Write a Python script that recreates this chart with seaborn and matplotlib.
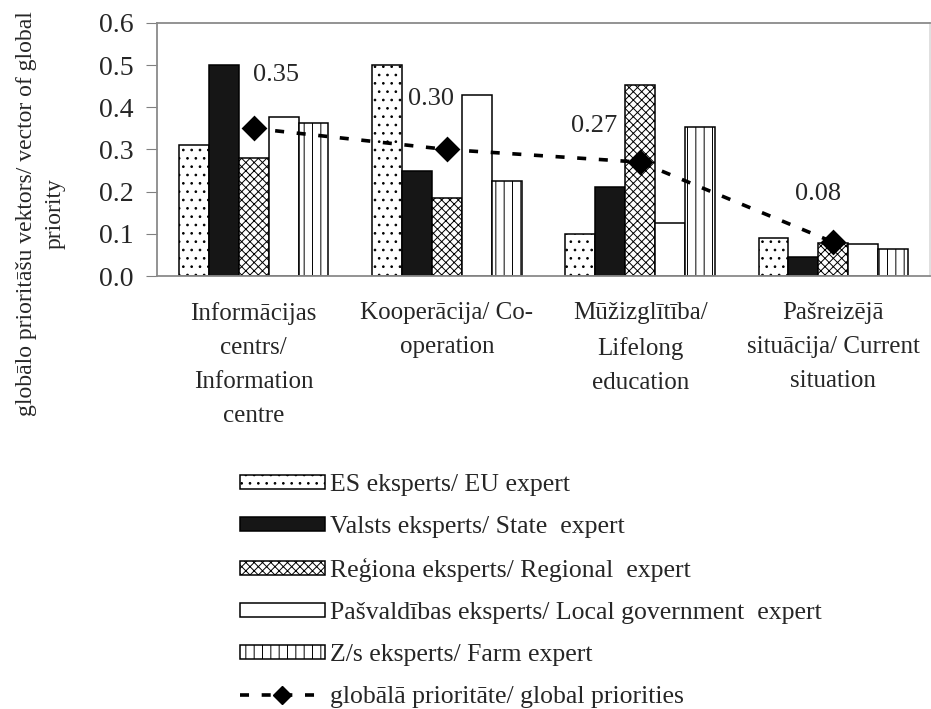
import numpy as np
import pandas as pd
from matplotlib import pyplot as plt
from matplotlib.patches import Patch
from matplotlib.lines import Line2D
import seaborn as sns

# datos
categorias = ["Informācijas\ncentrs/\nInformation\ncentre",
              "Kooperācija/ Co-\noperation",
              "Mūžizglītība/\nLifelong\neducation",
              "Pašreizējā\nsituācija/ Current\nsituation"]
expertos = ["ES eksperts/ EU expert",
            "Valsts eksperts/ State  expert",
            "Reģiona eksperts/ Regional  expert",
            "Pašvaldības eksperts/ Local government  expert",
            "Z/s eksperts/ Farm expert"]
eu_expert = [0.31, 0.50, 0.10, 0.09]
state_expert = [0.50, 0.25, 0.21, 0.045]
regional_expert = [0.28, 0.185, 0.453, 0.078]
local_expert = [0.376, 0.43, 0.125, 0.076]
farm_expert = [0.362, 0.225, 0.353, 0.063]
global_prio = [0.35, 0.30, 0.27, 0.08]
linea_label = "globālā prioritāte/ global priorities"

sns.set_style("white")
plt.rcParams['font.family'] = ['Liberation Serif', 'DejaVu Serif']
plt.rcParams['hatch.linewidth'] = 0.7

df = pd.DataFrame({
    'cat': np.repeat(categorias, len(expertos)),
    'expert': expertos * len(categorias),
    'val': np.array([eu_expert, state_expert, regional_expert,
                     local_expert, farm_expert]).T.ravel(),
})

colores = ['white', '#161616', 'white', 'white', 'white']
hatches = ['..', '', 'xxxx', '', '||']

fig = plt.figure(figsize=(9.31, 7.09), dpi=100)
ax = fig.add_axes([0.1686, 0.6107, 0.8304, 0.3569])

sns.barplot(data=df, x='cat', y='val', hue='expert', hue_order=expertos,
            palette=colores, edgecolor='black', linewidth=1.1,
            width=0.775, gap=0, errorbar=None, legend=False, ax=ax)
for cont, h in zip(ax.containers, hatches):
    for bar in cont:
        bar.set_hatch(h)

sns.pointplot(x=categorias, y=global_prio, color='black', marker='D',
              linestyle=(0, (2.5, 3.5)), linewidth=2.6, markersize=11,
              errorbar=None, ax=ax)

# etiquetas de la prioridad global
offsets = [(22, 53), (-16, 50), (-46, 36), (-15, 48)]
for i, (v, off) in enumerate(zip(global_prio, offsets)):
    ax.annotate(f"{v:.2f}", xy=(i, v), xytext=off, textcoords='offset pixels',
                ha='center', va='center', fontsize=19)

ax.set_xlim(-0.5, 3.5)
ax.set_ylim(0, 0.6)
ax.set_yticks(np.arange(0, 0.61, 0.1))
ax.set_yticklabels([f"{t:.1f}" for t in np.arange(0, 0.61, 0.1)])
ax.set_xticks(range(len(categorias)))
ax.set_xticklabels(categorias, linespacing=1.7)
ax.set_xticks(np.arange(-0.5, 3.6, 1), minor=True)
ax.tick_params(axis='x', which='major', length=0, pad=19, labelsize=18)
ax.tick_params(axis='x', which='minor', length=6, color='#808080', direction='out')
ax.tick_params(axis='y', length=8, pad=9, labelsize=20, color='#808080', left=True)
ax.set_xlabel('')
ax.set_ylabel('')
for s in ax.spines.values():
    s.set_color('#8a8a8a')
    s.set_linewidth(1.3)
ax.spines['right'].set_color('#dddddd')

fig.text(41 / 931, 1 - 214 / 709,
         "globālo prioritāšu vektors/ vector of global\npriority",
         rotation=90, ha='center', va='center', fontsize=17,
         multialignment='center', linespacing=1.5)

handles = [Patch(facecolor=c, edgecolor='black', hatch=h, linewidth=1.1)
           for c, h in zip(colores, hatches)]
handles.append(Line2D([], [], color='black', marker='D', markersize=9,
                      linestyle=(0, (2.5, 3.5)), linewidth=2.6))
fig.legend(handles, expertos + [linea_label], loc='upper left',
           bbox_to_anchor=(240 / 931, 1 - 474 / 709), frameon=False,
           fontsize=18.5, borderpad=0, borderaxespad=0, handlelength=3.3,
           handleheight=0.5, handletextpad=0.2, labelspacing=0.78)

plt.savefig('out.png', dpi=100)
